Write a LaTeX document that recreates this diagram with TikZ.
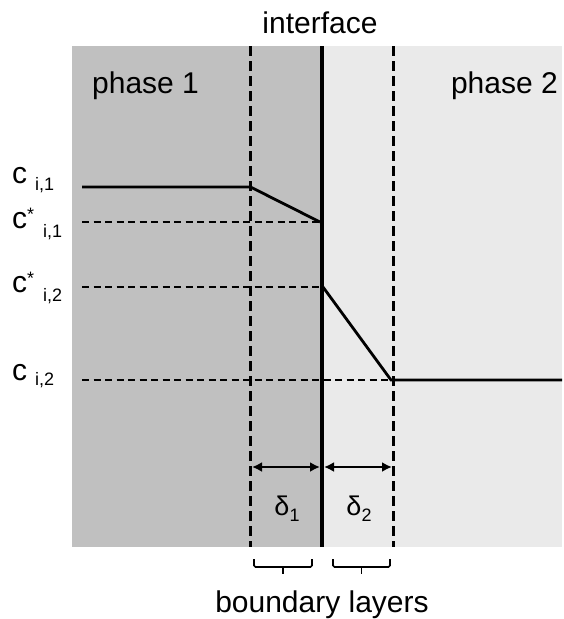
\documentclass[tikz,border=0pt]{standalone}
\usepackage{fontspec}
\setmainfont{Liberation Sans}
\usetikzlibrary{arrows.meta}
\definecolor{phaseone}{RGB}{192,192,192}
\definecolor{phasetwo}{RGB}{234,234,234}
\newcommand{\subtxt}[1]{{\fontsize{18}{18}\selectfont #1}}
\begin{document}
\begin{tikzpicture}[x=1pt,y=-1pt,
  label/.style={inner sep=0pt,font=\fontsize{30}{34}\selectfont},
  conc/.style={inner sep=0pt,anchor=base west,font=\fontsize{30}{34}\selectfont},
  profile/.style={line width=2.8pt,line join=miter},
  guide/.style={line width=2.2pt,dash pattern=on 7pt off 4.5pt},
  layer/.style={line width=2.4pt,dash pattern=on 10pt off 5pt},
  width arrow/.style={line width=2pt,{Latex[length=10pt,width=10pt]}-{Latex[length=10pt,width=10pt]}},
  brace/.style={line width=1.6pt,rounded corners=1.5pt}]
\useasboundingbox (0,0) rectangle (563,619);

% the two phases
\fill[phaseone] (72,46) rectangle (322,547);
\fill[phasetwo] (322,46) rectangle (562,547);

% key positions
\coordinate (bl1top) at (250.5,46);  \coordinate (bl1bot) at (250.5,547);
\coordinate (bl2top) at (393.5,46);  \coordinate (bl2bot) at (393.5,547);
\coordinate (iftop)  at (322,46);    \coordinate (ifbot)  at (322,547);
\coordinate (c1a) at (82,187);   \coordinate (c1b) at (250.5,187);
\coordinate (s1a) at (82,222);   \coordinate (s1b) at (320,222);
\coordinate (s2a) at (82,287);   \coordinate (s2b) at (323,287);
\coordinate (c2a) at (82,380);   \coordinate (c2b) at (391,380);
\coordinate (c2end) at (562,380);

% boundary-layer limits
\draw[layer] (bl1top) -- (bl1bot);
\draw[layer] (bl2top) -- (bl2bot);

% reference levels
\draw[guide] (s1a) -- (s1b);
\draw[guide] (s2a) -- (s2b);
\draw[guide] (c2a) -- (c2b);

% interface
\draw[line width=3.6pt] (iftop) -- (ifbot);

% concentration profile
\draw[profile] (c1a) -- (c1b) -- (s1b);
\draw[profile] (s2b) -- (c2b) -- (c2end);

% layer thicknesses
\coordinate (d1l) at (252,467); \coordinate (d1r) at (320,467);
\coordinate (d2l) at (324,467); \coordinate (d2r) at (392,467);
\draw[width arrow] (d1l) -- (d1r);
\draw[width arrow] (d2l) -- (d2r);
\node[label,anchor=base] (delta1) at (287,515) {\fontsize{27}{30}\selectfont δ\raisebox{-6pt}{\subtxt{1}}};
\node[label,anchor=base] (delta2) at (359,515) {\fontsize{27}{30}\selectfont δ\raisebox{-6pt}{\subtxt{2}}};

% braces under the layers
\draw[brace] (254,559) -- (254,567) -- (312,567) -- (312,559);
\draw[brace] (283,567) -- (283,574);
\draw[brace] (333,559) -- (333,567) -- (390,567) -- (390,559);
\draw[brace] (361.5,567) -- (361.5,574);

% text
\node[label,anchor=base] (iface) at (320,33) {interface};
\node[label,anchor=base west] (ph1) at (92,93) {phase 1};
\node[label,anchor=base east] (ph2) at (558,93) {phase 2};
\node[label,anchor=base] (bl) at (322,612) {boundary layers};

\node[conc] (lc1) at (12,183) {c\hspace{8pt}\raisebox{-7pt}{\subtxt{i,1}}};
\node[conc] (ls1) at (12,228) {c\raisebox{8pt}{\subtxt{*}}\hspace{9pt}\raisebox{-9pt}{\subtxt{i,1}}};
\node[conc] (ls2) at (12,292) {c\raisebox{8pt}{\subtxt{*}}\hspace{9pt}\raisebox{-9pt}{\subtxt{i,2}}};
\node[conc] (lc2) at (12,380) {c\hspace{8pt}\raisebox{-5pt}{\subtxt{i,2}}};
\end{tikzpicture}
\end{document}
